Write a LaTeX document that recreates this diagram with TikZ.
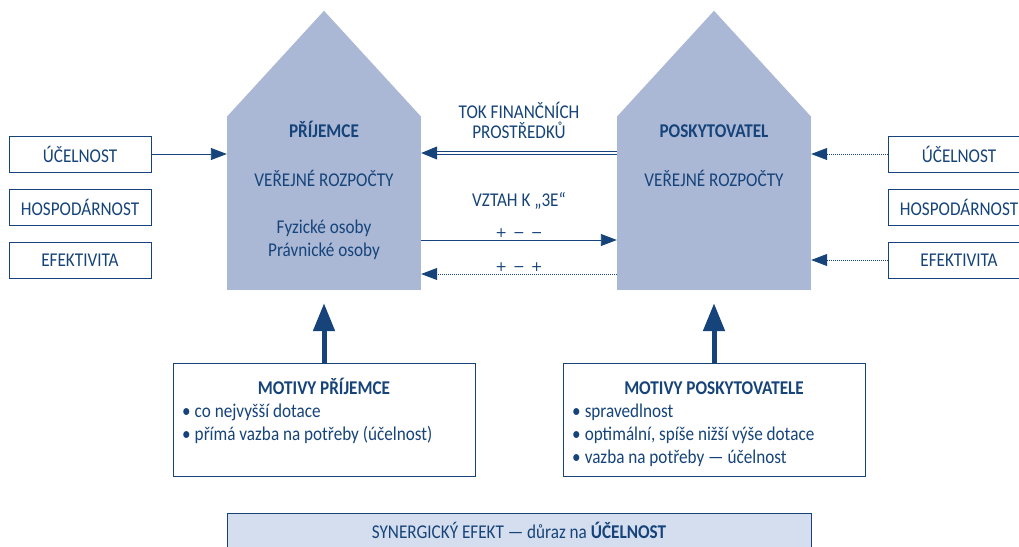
\documentclass[tikz,border=0pt]{standalone}
\usepackage{fontspec}
\setmainfont{Carlito}[FakeStretch=0.88]
\newfontfamily\signfont{DejaVu Sans}
\usetikzlibrary{arrows.meta}
\definecolor{dblue}{RGB}{22,68,122}
\definecolor{housefill}{RGB}{170,184,213}
\definecolor{bannerfill}{RGB}{213,222,238}
\begin{document}
\begin{tikzpicture}[x=1pt,y=-1pt,
  font=\fontsize{19.5}{23}\selectfont, text=dblue,
  housebody/.style={fill=housefill, draw=none, inner sep=0, minimum width=194pt, minimum height=173pt},
  lbl/.style={draw=dblue, line width=0.9pt, minimum width=142pt, minimum height=36pt, inner sep=0},
  motbox/.style={draw=dblue, line width=0.9pt, minimum width=302pt, minimum height=113pt, inner sep=0},
  txt/.style={inner sep=0, anchor=base},
  txtl/.style={inner sep=0, anchor=base west},
  bold/.style={font=\fontsize{19.5}{23}\selectfont\bfseries},
  signs/.style={inner sep=0, anchor=base, font=\signfont\fontsize{14}{16}\selectfont},
  arr/.style={draw=dblue, line width=0.9pt, -{Triangle[length=16pt,width=12pt]}},
  dotarr/.style={arr, dash pattern=on 1pt off 1pt},
  dblarr/.style={draw=dblue, double=white, double distance=1.6pt, line width=0.9pt, -{Triangle[length=16pt,width=13pt]}},
  bigarr/.style={draw=dblue, line width=5pt, -{Triangle[length=28pt,width=21pt]}}
]
\path[use as bounding box, fill=white] (0,0) rectangle (1019,546);

% houses
\node[housebody] (P) at (324,203.5) {};
\fill[housefill] (P.north west) -- ([yshift=106pt]P.north) -- (P.north east) -- cycle;
\node[housebody] (R) at (714,203.5) {};
\fill[housefill] (R.north west) -- ([yshift=106pt]R.north) -- (R.north east) -- cycle;

\node[txt, bold] (pt) at (324,137) {PŘÍJEMCE};
\node[txt] (pv) at (324,186) {VEŘEJNÉ ROZPOČTY};
\node[txt] (pf) at (324,233) {Fyzické osoby};
\node[txt] (pp) at (324,256) {Právnické osoby};
\node[txt, bold] (rt) at (714,137) {POSKYTOVATEL};
\node[txt] (rv) at (714,186) {VEŘEJNÉ ROZPOČTY};

% left labels
\node[lbl] (u1) at (80,154) {ÚČELNOST};
\node[lbl] (h1) at (80,207) {HOSPODÁRNOST};
\node[lbl] (e1) at (80,260) {EFEKTIVITA};
% right labels
\node[lbl] (u2) at (959,154) {ÚČELNOST};
\node[lbl] (h2) at (959,207) {HOSPODÁRNOST};
\node[lbl] (e2) at (959,260) {EFEKTIVITA};

\draw[arr] (u1.east) -- (u1.east -| P.west);
\draw[dotarr] (u2.west) -- (u2.west -| R.east);
\draw[dotarr] (e2.west) -- (e2.west -| R.east);

% middle
\node[txt] (tok1) at (519,118) {TOK FINANČNÍCH};
\node[txt] (tok2) at (519,138) {PROSTŘEDKŮ};
\node[txt] (vz) at (519,206) {VZTAH K „3E“};
\node[signs] (pm1) at (519,237) {+\hspace{6pt}−\hspace{6pt}−};
\node[signs] (pm2) at (519,271) {+\hspace{6pt}−\hspace{6pt}+};
\draw[dblarr] ([yshift=50.5pt]R.west) -- ([yshift=50.5pt]P.east);
\draw[arr] ([yshift=-36.5pt]P.east) -- ([yshift=-36.5pt]R.west);
\draw[dotarr] ([yshift=-70.5pt]R.west) -- ([yshift=-70.5pt]P.east);

% motive boxes
\node[motbox] (m1) at (324,419.5) {};
\node[motbox] (m2) at (714,419.5) {};
\draw[bigarr] (m1.north) -- ([yshift=-13pt]m1.north |- P.south);
\draw[bigarr] (m2.north) -- ([yshift=-13pt]m2.north |- R.south);

\node[txt, bold] (m1t) at (324,394) {MOTIVY PŘÍJEMCE};
\node[txtl] (m1a) at (182,417) {•\hspace{4pt}co nejvyšší dotace};
\node[txtl] (m1b) at (182,440) {•\hspace{4pt}přímá vazba na potřeby (účelnost)};

\node[txt, bold] (m2t) at (714,394) {MOTIVY POSKYTOVATELE};
\node[txtl] (m2a) at (572,417) {•\hspace{4pt}spravedlnost};
\node[txtl] (m2b) at (572,440) {•\hspace{4pt}optimální, spíše nižší výše dotace};
\node[txtl] (m2c) at (572,463) {•\hspace{4pt}vazba na potřeby — účelnost};

% banner
\node[draw=dblue, line width=0.9pt, fill=bannerfill, minimum width=584pt, minimum height=40pt, inner sep=0] (ban) at (519,533) {};
\node[txt] (bant) at (519,538) {SYNERGICKÝ EFEKT — důraz na \textbf{ÚČELNOST}};
\end{tikzpicture}
\end{document}
